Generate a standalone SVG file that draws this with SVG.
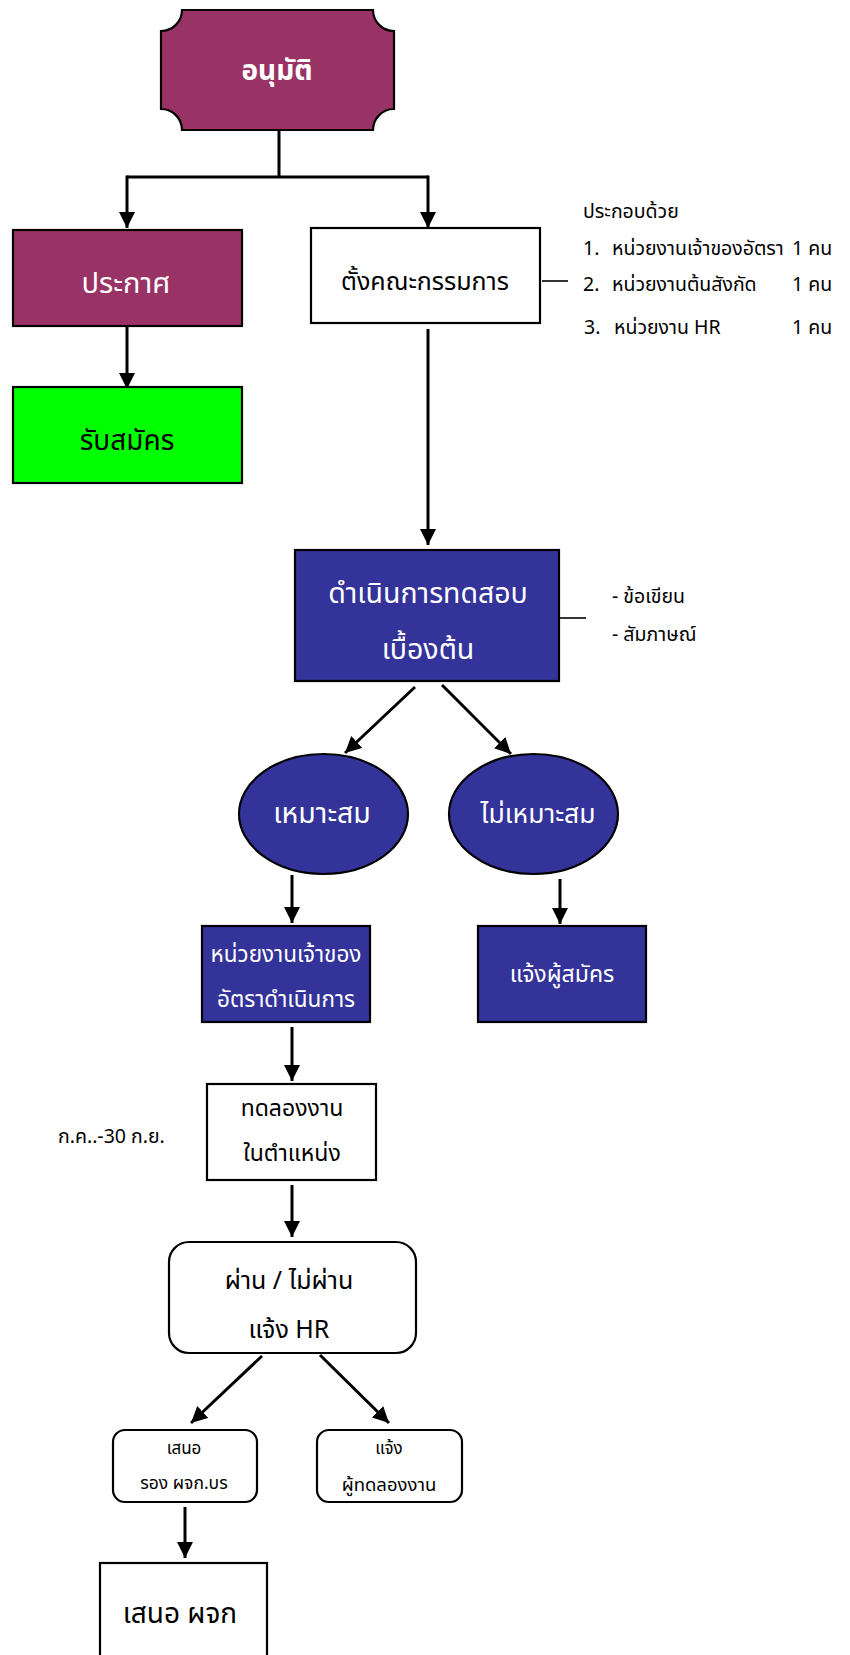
<svg xmlns="http://www.w3.org/2000/svg" width="850" height="1655" viewBox="0 0 850 1655">
<defs>
<marker id="ah" viewBox="0 0 10 10" refX="10" refY="5" markerWidth="5.4" markerHeight="5.4" markerUnits="strokeWidth" orient="auto">
<path d="M0,0 L10,5 L0,10 Z" fill="#000"/>
</marker>
</defs>
<style>
text{font-family:"Noto Sans Thai","Noto Sans","DejaVu Sans",sans-serif;text-anchor:middle}
.box{stroke:#000;stroke-width:2.2}
.pur{fill:#993366}
.blu{fill:#333399}
.wht{fill:#fff}
.grn{fill:#00ff00}
.tw{fill:#fff}
.tb{fill:#000}
.note{font-size:19.5px;text-anchor:start;fill:#000}
.con{stroke:#000;stroke-width:3;fill:none}
.thin{stroke:#000;stroke-width:1.6;fill:none}
</style>
<rect width="850" height="1655" fill="#fff"/>

<g id="connectors">
<path class="con" d="M279,130 V177 M127,177 H428"/>
<path class="con" d="M127,175.5 V228" marker-end="url(#ah)"/>
<path class="con" d="M428,175.5 V228" marker-end="url(#ah)"/>
<path class="con" d="M127,326 V389" marker-end="url(#ah)"/>
<path class="con" d="M428,329 V545" marker-end="url(#ah)"/>
<path class="thin" d="M542,281 H568"/>
<path class="thin" d="M560,618 H586"/>
<path class="con" d="M415,687 L345,753" marker-end="url(#ah)"/>
<path class="con" d="M442,685 L511,754" marker-end="url(#ah)"/>
<path class="con" d="M292,875 V923" marker-end="url(#ah)"/>
<path class="con" d="M560,879 V924" marker-end="url(#ah)"/>
<path class="con" d="M292,1027 V1081" marker-end="url(#ah)"/>
<path class="con" d="M292,1185 V1237" marker-end="url(#ah)"/>
<path class="con" d="M262,1356 L191,1423" marker-end="url(#ah)"/>
<path class="con" d="M320,1355 L389,1423" marker-end="url(#ah)"/>
<path class="con" d="M185,1507 V1558" marker-end="url(#ah)"/>
</g>

<g id="n-approve">
<path class="box pur" d="M182,10 H373 A21,21 0 0 0 394,31 V109 A21,21 0 0 0 373,130 H182 A21,21 0 0 0 161,109 V31 A21,21 0 0 0 182,10 Z"/>
<text class="tw" x="277" y="80" font-size="28" font-weight="bold">อนุมัติ</text>
</g>

<g id="n-announce">
<rect class="box pur" x="13" y="230" width="229" height="96"/>
<text class="tw" x="126" y="293" font-size="29">ประกาศ</text>
</g>

<g id="n-apply">
<rect class="box grn" x="13" y="387" width="229" height="96"/>
<text class="tb" x="127" y="450" font-size="28">รับสมัคร</text>
</g>

<g id="n-committee">
<rect class="box wht" x="311" y="228" width="229" height="95"/>
<text class="tb" x="425" y="290" font-size="25">ตั้งคณะกรรมการ</text>
</g>

<g id="n-committee-note">
<text class="note" x="583" y="218">ประกอบด้วย</text>
<text class="note" x="583" y="255">1.</text>
<text class="note" x="612" y="255">หน่วยงานเจ้าของอัตรา</text>
<text class="note" x="792" y="255">1 คน</text>
<text class="note" x="583" y="291">2.</text>
<text class="note" x="612" y="291">หน่วยงานต้นสังกัด</text>
<text class="note" x="792" y="291">1 คน</text>
<text class="note" x="584" y="334">3.</text>
<text class="note" x="614" y="334">หน่วยงาน HR</text>
<text class="note" x="792" y="334">1 คน</text>
</g>

<g id="n-test">
<rect class="box blu" x="295" y="550" width="264" height="131"/>
<text class="tw" x="428" y="603" font-size="28.5">ดำเนินการทดสอบ</text>
<text class="tw" x="428" y="659" font-size="28.5">เบื้องต้น</text>
</g>

<g id="n-test-note">
<text class="note" x="612" y="603">- ข้อเขียน</text>
<text class="note" x="612" y="641">- สัมภาษณ์</text>
</g>

<g id="n-suitable">
<ellipse class="box blu" cx="323.5" cy="814" rx="84.5" ry="60"/>
<text class="tw" x="322" y="823" font-size="28.5">เหมาะสม</text>
</g>

<g id="n-unsuitable">
<ellipse class="box blu" cx="533.5" cy="814" rx="84.5" ry="60"/>
<text class="tw" x="538" y="823" font-size="26.5">ไม่เหมาะสม</text>
</g>

<g id="n-owner">
<rect class="box blu" x="202" y="926" width="168" height="96"/>
<text class="tw" x="286" y="962" font-size="22.5">หน่วยงานเจ้าของ</text>
<text class="tw" x="286" y="1007" font-size="22.5">อัตราดำเนินการ</text>
</g>

<g id="n-notify-applicant">
<rect class="box blu" x="478" y="926" width="168" height="96"/>
<text class="tw" x="562" y="982" font-size="23">แจ้งผู้สมัคร</text>
</g>

<g id="n-trial">
<rect class="box wht" x="207" y="1084" width="169" height="96"/>
<text class="tb" x="292" y="1116" font-size="23">ทดลองงาน</text>
<text class="tb" x="292" y="1161" font-size="23">ในตำแหน่ง</text>
</g>

<g id="n-period">
<text class="note" x="58" y="1143">ก.ค..-30 ก.ย.</text>
</g>

<g id="n-result">
<rect class="box wht" x="169" y="1242" width="247" height="111" rx="20" ry="20"/>
<text class="tb" x="289" y="1289" font-size="25">ผ่าน / ไม่ผ่าน</text>
<text class="tb" x="289" y="1338" font-size="25">แจ้ง HR</text>
</g>

<g id="n-propose-deputy">
<rect class="box wht" x="113" y="1430" width="144" height="72" rx="12" ry="12"/>
<text class="tb" x="184" y="1454" font-size="17">เสนอ</text>
<text class="tb" x="184" y="1489" font-size="17.5">รอง ผจก.บร</text>
</g>

<g id="n-notify-trainee">
<rect class="box wht" x="317" y="1430" width="145" height="72" rx="12" ry="12"/>
<text class="tb" x="389" y="1454" font-size="17">แจ้ง</text>
<text class="tb" x="389" y="1491" font-size="18.5">ผู้ทดลองงาน</text>
</g>

<g id="n-propose-manager">
<rect class="box wht" x="100" y="1563" width="167" height="100"/>
<text class="tb" x="180" y="1623" font-size="28">เสนอ ผจก</text>
</g>
</svg>
